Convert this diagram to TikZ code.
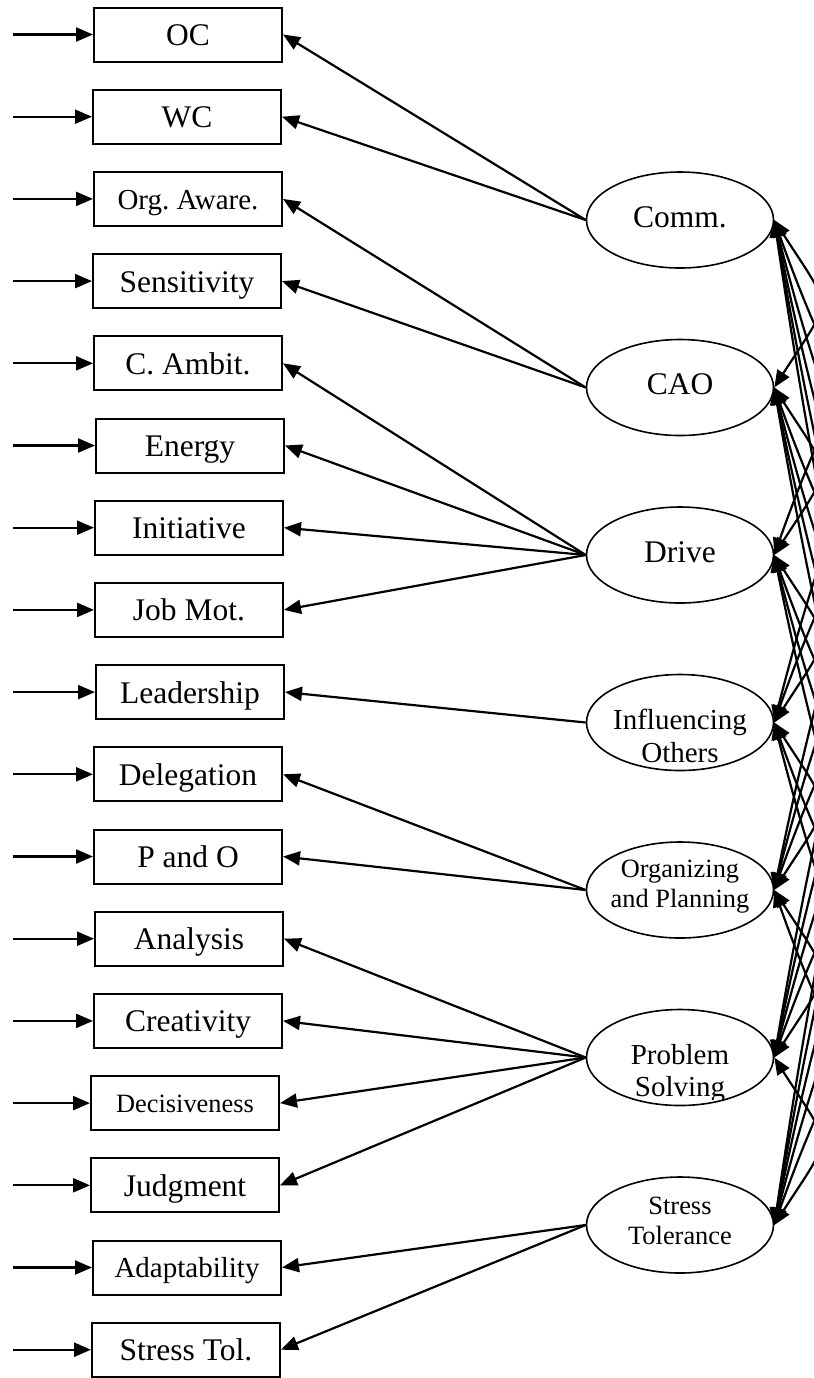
\documentclass[tikz,border=0pt]{standalone}
\usepackage{fontspec}
\setmainfont{Liberation Serif}
\usetikzlibrary{arrows.meta,shapes.geometric,bending}
\frenchspacing

\begin{document}
\begin{tikzpicture}[x=0.5pt,y=-0.5pt,
  tip/.tip={Triangle[length=8.5pt,width=7pt]},
  bigfont/.style={font=\fontsize{15.75pt}{19pt}\selectfont},
  midfont/.style={font=\fontsize{14.5pt}{17pt}\selectfont},
  smallfont/.style={font=\fontsize{13.2pt}{16pt}\selectfont},
  ind/.style={draw,line width=1pt,minimum width=94pt,minimum height=27pt,
    inner sep=0pt,bigfont,text height=11pt,text depth=0pt},
  indm/.style={ind,midfont,text height=10.1pt},
  inds/.style={ind,smallfont,text height=9.2pt},
  factor/.style={draw,ellipse,line width=0.8pt,minimum width=93.5pt,
    minimum height=48pt,inner sep=0pt},
  ftext/.style={inner sep=0pt,anchor=base},
  feed/.style={-tip,line width=1.15pt},
  load/.style={-tip,line width=1.1pt},
  corr/.style={tip-tip,line width=1.1pt}]

\useasboundingbox (0,0) rectangle (814,1378);
\clip (0,0) rectangle (814,1378);

% observed indicators
\foreach \n/\x/\t/\s [count=\k from 0] in {
  oc/188/OC/ind, wc/187/WC/ind, orgaw/188/Org. Aware./indm,
  sens/187/Sensitivity/ind, camb/188/C. Ambit./ind, energy/190/Energy/ind,
  init/189/Initiative/ind, jobmot/189/Job Mot./ind, lead/190/Leadership/ind,
  deleg/188/Delegation/ind, pando/188/P and O/ind, analysis/189/Analysis/ind,
  creat/188/Creativity/ind, decis/185/Decisiveness/inds, judg/185/Judgment/ind,
  adapt/187/Adaptability/indm, stol/186/Stress Tol./ind} {
  \node[\s] (\n) at (\x,{34.5+82.2*\k}) {\t};
  \coordinate (e-\n) at (13,{34.5+82.2*\k});
  \draw[feed] (e-\n) -- (\n.west);
}

% latent factors
\foreach \k in {1,...,7} {
  \node[factor] (f\k) at (680,{220+167.5*(\k-1)}) {};
}

% factor labels
\node[ftext,bigfont] (t-comm) at (680,227) {Comm.};
\node[ftext,bigfont] (t-cao) at (680,394.5) {CAO};
\node[ftext,bigfont] (t-drive) at (680,562) {Drive};
\node[ftext,midfont] (t-infl1) at (680,729) {Influencing};
\node[ftext,midfont] (t-infl2) at (680,762) {Others};
\node[ftext,smallfont] (t-org1) at (680,877) {Organizing};
\node[ftext,smallfont] (t-org2) at (680,907) {and Planning};
\node[ftext,midfont] (t-prob1) at (680,1064) {Problem};
\begin{scope}
  \clip (560,1070) rectangle (800,1099);
  \node[ftext,midfont] (t-prob2) at (680,1096) {Solving};
\end{scope}
\node[ftext,smallfont] (t-stress1) at (680,1214) {Stress};
\node[ftext,smallfont] (t-stress2) at (680,1244) {Tolerance};

% loadings
\foreach \f/\list in {1/{oc,wc}, 2/{orgaw,sens}, 3/{camb,energy,init,jobmot},
  4/{lead}, 5/{deleg,pando}, 6/{analysis,creat,decis,judg}, 7/{adapt,stol}} {
  \foreach \b in \list {
    \draw[load] (f\f.west) -- (\b.east);
  }
}

% factor correlations: wider and steeper the further apart the factors are
\foreach \i in {1,...,6} {
  \pgfmathtruncatemacro\nexti{\i+1}
  \foreach \j in {\nexti,...,7} {
    \pgfmathsetmacro\h{40+22*(\j-\i)}
    \pgfmathsetmacro\ang{32/((\j-\i)^0.75)}
    \pgfmathsetmacro\dy{\h/tan(\ang)}
    \draw[corr] (f\i.east) .. controls +(\h,\dy) and +(\h,-\dy) .. (f\j.east);
  }
}
\end{tikzpicture}
\end{document}
